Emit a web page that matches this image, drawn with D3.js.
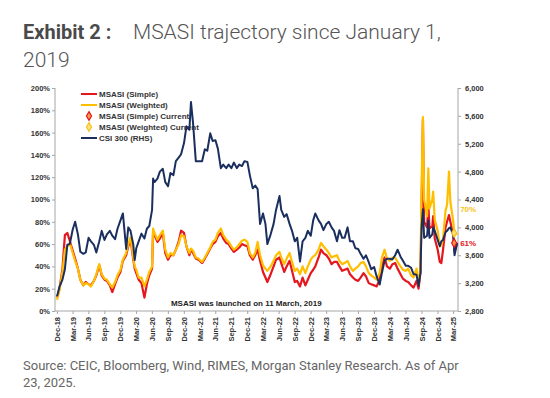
<!DOCTYPE html>
<html>
<head>
<meta charset="utf-8">
<script src="https://cdn.jsdelivr.net/npm/d3@7"></script>
<style>
  body { margin: 0; background: #fff; }
  svg { display: block; }
</style>
</head>
<body>
<div id="chart"></div>
<script>
var dates = [
    "2019-01-01","2019-01-15","2019-02-01","2019-02-15","2019-03-01","2019-03-15","2019-04-01","2019-04-15",
    "2019-05-01","2019-05-15","2019-06-01","2019-06-15","2019-07-01","2019-07-15","2019-08-01","2019-08-15",
    "2019-09-01","2019-09-15","2019-10-01","2019-10-15","2019-11-01","2019-11-15","2019-12-01","2019-12-15",
    "2020-01-01","2020-01-15","2020-02-03","2020-02-15","2020-02-28","2020-03-15","2020-03-23","2020-04-01",
    "2020-04-15","2020-05-01","2020-05-18","2020-06-01","2020-06-15","2020-07-01","2020-07-07","2020-07-15",
    "2020-08-01","2020-08-15","2020-09-01","2020-09-15","2020-10-01","2020-10-15","2020-11-01","2020-11-15",
    "2020-12-01","2020-12-15","2021-01-01","2021-01-15","2021-02-01","2021-02-10","2021-02-22","2021-03-10",
    "2021-03-25","2021-04-15","2021-05-01","2021-05-15","2021-06-01","2021-06-15","2021-07-01","2021-07-15",
    "2021-08-01","2021-08-15","2021-09-01","2021-09-15","2021-10-01","2021-10-15","2021-11-01","2021-11-15",
    "2021-12-01","2021-12-15","2022-01-01","2022-01-15","2022-02-01","2022-02-15","2022-03-01","2022-03-15",
    "2022-04-01","2022-04-15","2022-04-26","2022-05-15","2022-06-01","2022-06-15","2022-07-05","2022-07-15",
    "2022-08-01","2022-08-15","2022-09-01","2022-09-15","2022-10-01","2022-10-15","2022-10-31","2022-11-15",
    "2022-12-01","2022-12-15","2023-01-01","2023-01-15","2023-01-27","2023-02-15","2023-03-01","2023-03-15",
    "2023-04-01","2023-04-15","2023-05-01","2023-05-15","2023-06-01","2023-06-15","2023-07-01","2023-07-15",
    "2023-08-01","2023-08-15","2023-09-01","2023-09-15","2023-10-01","2023-10-15","2023-11-01","2023-11-15",
    "2023-12-01","2023-12-15","2024-01-01","2024-01-15","2024-02-02","2024-02-15","2024-03-01","2024-03-15",
    "2024-04-01","2024-04-15","2024-05-01","2024-05-15","2024-06-01","2024-06-15","2024-07-01","2024-07-15",
    "2024-08-01","2024-08-15","2024-09-01","2024-09-13","2024-09-24","2024-09-30","2024-10-08","2024-10-15",
    "2024-11-01","2024-11-08","2024-11-15","2024-12-01","2024-12-06","2024-12-15","2025-01-01","2025-01-13",
    "2025-01-22","2025-02-01","2025-02-15","2025-02-24","2025-03-07","2025-03-15","2025-04-01","2025-04-08",
    "2025-04-23"
];

var csi300 = [
    3010,3150,3250,3400,3750,3760,3970,4080, 3900,3650,3620,3640,3850,3800,3750,3640,
    3800,3950,3820,3900,3950,3880,3830,3980, 4100,4200,3690,4000,3950,3750,3530,3700,
    3800,3910,3840,3980,4020,4250,4700,4650, 4700,4800,4840,4650,4590,4780,4750,4950,
    5000,5050,5210,5450,5400,5800,5500,4950, 4950,4950,5120,5100,5350,5240,5250,5130,
    4850,4900,4850,4900,4850,4930,4850,4900, 4880,4950,4940,4750,4560,4600,4550,4050,
    4200,4050,3760,3900,4050,4250,4450,4250, 4150,4190,4050,3950,3800,3850,3510,3800,
    3850,3950,3880,4100,4200,4100,4050,3960, 4050,4080,4000,3950,3800,3960,3850,3850,
    4000,3800,3800,3700,3690,3620,3550,3600, 3500,3400,3430,3300,3180,3350,3520,3550,
    3550,3540,3600,3680,3580,3520,3450,3450, 3420,3330,3320,3160,3350,4000,4260,3850,
    3880,4100,3850,3900,4000,3950,3820,3730, 3800,3820,3930,3950,3990,4000,3890,3600,
    3780
];

var msasiSimple = [
    12,20,38,68,70,63,54,47, 38,28,23,26,24,23,27,32,
    41,32,28,27,23,17,24,30, 35,45,50,58,64,46,38,34,
    28,25,12,24,32,38,72,68, 62,65,70,52,46,50,50,55,
    62,72,70,58,50,55,52,47, 46,43,47,51,56,60,62,67,
    70,65,61,60,56,53,55,57, 60,59,58,50,46,50,55,45,
    35,30,26,33,40,46,48,43, 35,40,45,36,26,27,22,30,
    23,28,34,37,40,48,55,52, 50,47,42,44,44,40,36,37,
    38,33,30,28,27,30,34,31, 25,24,23,22,28,40,48,40,
    38,42,43,38,33,29,27,26, 23,21,27,20,35,90,172,80,
    75,95,74,76,85,65,55,44, 43,55,75,80,86,80,68,53,
    61
];

var msasiWeighted = [
    10,19,35,55,58,61,52,45, 38,28,23,25,24,22,27,33,
    42,33,29,28,24,21,26,32, 37,46,52,60,66,48,40,37,
    30,30,22,28,35,40,74,70, 64,68,72,55,48,52,50,55,
    60,68,67,58,52,56,54,48, 47,44,48,52,57,62,64,70,
    74,68,64,62,58,55,57,60, 63,64,62,52,48,52,62,50,
    41,38,36,40,45,50,53,48, 42,47,52,44,36,38,33,40,
    34,40,46,49,50,55,61,58, 55,52,48,49,50,45,42,43,
    45,40,36,38,40,43,44,40, 34,32,30,28,34,48,55,47,
    45,48,48,44,40,37,36,38, 32,30,38,24,40,110,174,100,
    85,128,92,100,107,82,72,58, 59,65,90,95,125,98,80,68,
    70
];

var leftTicks = [0, 20, 40, 60, 80, 100, 120, 140, 160, 180, 200];
var rightTicks = [2800, 3200, 3600, 4000, 4400, 4800, 5200, 5600, 6000];
var tickLabels = [
    "Dec-18","Mar-19","Jun-19","Sep-19","Dec-19","Mar-20","Jun-20","Sep-20","Dec-20",
    "Mar-21","Jun-21","Sep-21","Dec-21","Mar-22","Jun-22","Sep-22","Dec-22",
    "Mar-23","Jun-23","Sep-23","Dec-23","Mar-24","Jun-24","Sep-24","Dec-24","Mar-25"
];
var legendItems = [
    { name: "MSASI (Simple)", type: "line", color: "#e5161d" },
    { name: "MSASI (Weighted)", type: "line", color: "#ffbf00" },
    { name: "MSASI (Simple) Current", type: "dot", color: "#e5161d", fill: "#f59a4a" },
    { name: "MSASI (Weighted) Current", type: "dot", color: "#f6c21a", fill: "#fde27a" },
    { name: "CSI 300 (RHS)", type: "line", color: "#1b2f5f" }
];
var currentSimple = 61;
var currentWeighted = 70;

var chartFont = "Arial, 'Liberation Sans', sans-serif";
var margin = { top: 88, right: 92, bottom: 87, left: 55 };
var width = 550 - margin.left - margin.right;
var height = 398 - margin.top - margin.bottom;

var root = d3.select("#chart")
    .append("svg")
    .attr("width", 550)
    .attr("height", 398);

// heading
var title = root.append("text")
    .attr("x", 23)
    .attr("y", 39)
    .style("font-family", "Roboto, sans-serif");
title.append("tspan")
    .style("font-size", "20px")
    .style("font-weight", "bold")
    .style("fill", "#4a4a4a")
    .text("Exhibit 2 :");
title.append("tspan")
    .attr("x", 133)
    .style("font-size", "21px")
    .style("font-weight", 300)
    .style("fill", "#555")
    .text("MSASI trajectory since January 1,");
root.append("text")
    .attr("x", 23)
    .attr("y", 67)
    .style("font-family", "Roboto, sans-serif")
    .style("font-size", "21px")
    .style("font-weight", 300)
    .style("fill", "#555")
    .text("2019");

root.append("text")
    .attr("x", 23)
    .attr("y", 370)
    .style("font-family", "Roboto, sans-serif")
    .style("font-size", "13px")
    .style("fill", "#666")
    .text("Source: CEIC, Bloomberg, Wind, RIMES, Morgan Stanley Research. As of Apr");
root.append("text")
    .attr("x", 23)
    .attr("y", 387)
    .style("font-family", "Roboto, sans-serif")
    .style("font-size", "13px")
    .style("fill", "#666")
    .text("23, 2025.");

var svg = root.append("g")
    .attr("transform", "translate(" + margin.left + "," + margin.top + ")")
    .style("font-family", chartFont);

var parseDate = d3.timeParse("%Y-%m-%d");
var rows = dates.map(function(d, i) {
    return { date: parseDate(d), csi: csi300[i], simple: msasiSimple[i], weighted: msasiWeighted[i] };
});

var x = d3.scaleTime()
    .domain([parseDate("2018-12-20"), parseDate("2025-04-28")])
    .range([0, width]);
var y = d3.scaleLinear()
    .domain([0, 200])
    .range([height, 0]);
var y2 = d3.scaleLinear()
    .domain([2800, 6000])
    .range([height, 0]);

// axes
var axisColor = "#a6a6a6";
var leftAxis = svg.append("g")
    .call(d3.axisLeft(y).tickValues(leftTicks).tickSize(3).tickFormat(function(d) { return d + "%"; }));
var rightAxis = svg.append("g")
    .attr("transform", "translate(" + width + ",0)")
    .call(d3.axisRight(y2).tickValues(rightTicks).tickSize(3).tickFormat(d3.format(",")));

var tickDates = tickLabels.map(function(t) {
    return d3.timeDay.offset(d3.timeMonth.offset(d3.timeParse("%b-%y")(t), 1), -1);
});
var bottomAxis = svg.append("g")
    .attr("transform", "translate(0," + height + ")")
    .call(d3.axisBottom(x).tickValues(tickDates).tickSize(3).tickFormat(d3.timeFormat("%b-%y")));

[leftAxis, rightAxis, bottomAxis].forEach(function(a) {
    a.selectAll("path").attr("stroke", axisColor);
    a.selectAll("line").attr("stroke", axisColor);
    a.selectAll("text")
        .style("font-family", chartFont)
        .style("font-size", "7.5px")
        .style("font-weight", "bold")
        .attr("fill", "#333");
});
leftAxis.select(".domain").attr("d", "M0,0V" + height);
rightAxis.select(".domain").attr("d", "M0,0V" + height);
bottomAxis.select(".domain").attr("d", "M0,0H" + width);
leftAxis.selectAll("text").attr("x", -5);
rightAxis.selectAll("text").attr("x", 7);
bottomAxis.selectAll("text")
    .attr("transform", "rotate(-90)")
    .attr("text-anchor", "end")
    .attr("x", -6)
    .attr("y", 0)
    .attr("dy", "0.35em");

// launch note
svg.append("text")
    .attr("x", x(parseDate("2021-12-20")) + 1)
    .attr("y", height - 5)
    .attr("text-anchor", "middle")
    .style("font-size", "8px")
    .style("font-weight", "bold")
    .style("fill", "#222")
    .text("MSASI was launched on 11 March, 2019");

// legend (lines are drawn over it, as in the source chart)
var legend = svg.append("g")
    .attr("transform", "translate(26,6)");
legendItems.forEach(function(item, i) {
    var g = legend.append("g").attr("transform", "translate(0," + (i * 11) + ")");
    if (item.type === "line") {
        g.append("line")
            .attr("x1", 0).attr("x2", 16)
            .attr("y1", 0).attr("y2", 0)
            .attr("stroke", item.color)
            .attr("stroke-width", 2);
    } else {
        g.append("path")
            .attr("transform", "translate(8,0)")
            .attr("d", d3.symbol(d3.symbolDiamond, 22)())
            .attr("fill", item.fill)
            .attr("stroke", item.color)
            .attr("stroke-width", 1.2);
    }
    g.append("text")
        .attr("x", 18)
        .attr("dy", "0.35em")
        .style("font-size", "8px")
        .style("font-weight", "bold")
        .style("fill", "#333")
        .text(item.name);
});

// series
var lineSimple = d3.line()
    .x(function(d) { return x(d.date); })
    .y(function(d) { return y(d.simple); });
var lineWeighted = d3.line()
    .x(function(d) { return x(d.date); })
    .y(function(d) { return y(d.weighted); });
var lineCsi = d3.line()
    .x(function(d) { return x(d.date); })
    .y(function(d) { return y2(d.csi); });

svg.append("path")
    .datum(rows)
    .attr("fill", "none")
    .attr("stroke", "#e5161d")
    .attr("stroke-width", 2.2)
    .attr("stroke-linejoin", "round")
    .attr("d", lineSimple);
svg.append("path")
    .datum(rows)
    .attr("fill", "none")
    .attr("stroke", "#ffbf00")
    .attr("stroke-width", 2.2)
    .attr("stroke-linejoin", "round")
    .attr("d", lineWeighted);
svg.append("path")
    .datum(rows)
    .attr("fill", "none")
    .attr("stroke", "#1b2f5f")
    .attr("stroke-width", 2)
    .attr("stroke-linejoin", "round")
    .attr("d", lineCsi);

// current values
var last = rows[rows.length - 1];
var current = [
    { value: currentWeighted, color: "#f6c21a", fill: "#fde27a", dy: -24 },
    { value: currentSimple, color: "#e5161d", fill: "#f59a4a", dy: 0 }
];
current.forEach(function(c) {
    svg.append("path")
        .attr("transform", "translate(" + (x(last.date) - 3) + "," + y(c.value) + ")")
        .attr("d", d3.symbol(d3.symbolDiamond, 22)())
        .attr("fill", c.fill)
        .attr("stroke", c.color)
        .attr("stroke-width", 1.2);
    svg.append("text")
        .attr("x", x(last.date) + 3)
        .attr("y", y(c.value) + c.dy)
        .attr("dy", "0.35em")
        .style("font-size", "8px")
        .style("font-weight", "bold")
        .style("fill", c.color)
        .text(c.value + "%");
});
</script>
</body>
</html>
